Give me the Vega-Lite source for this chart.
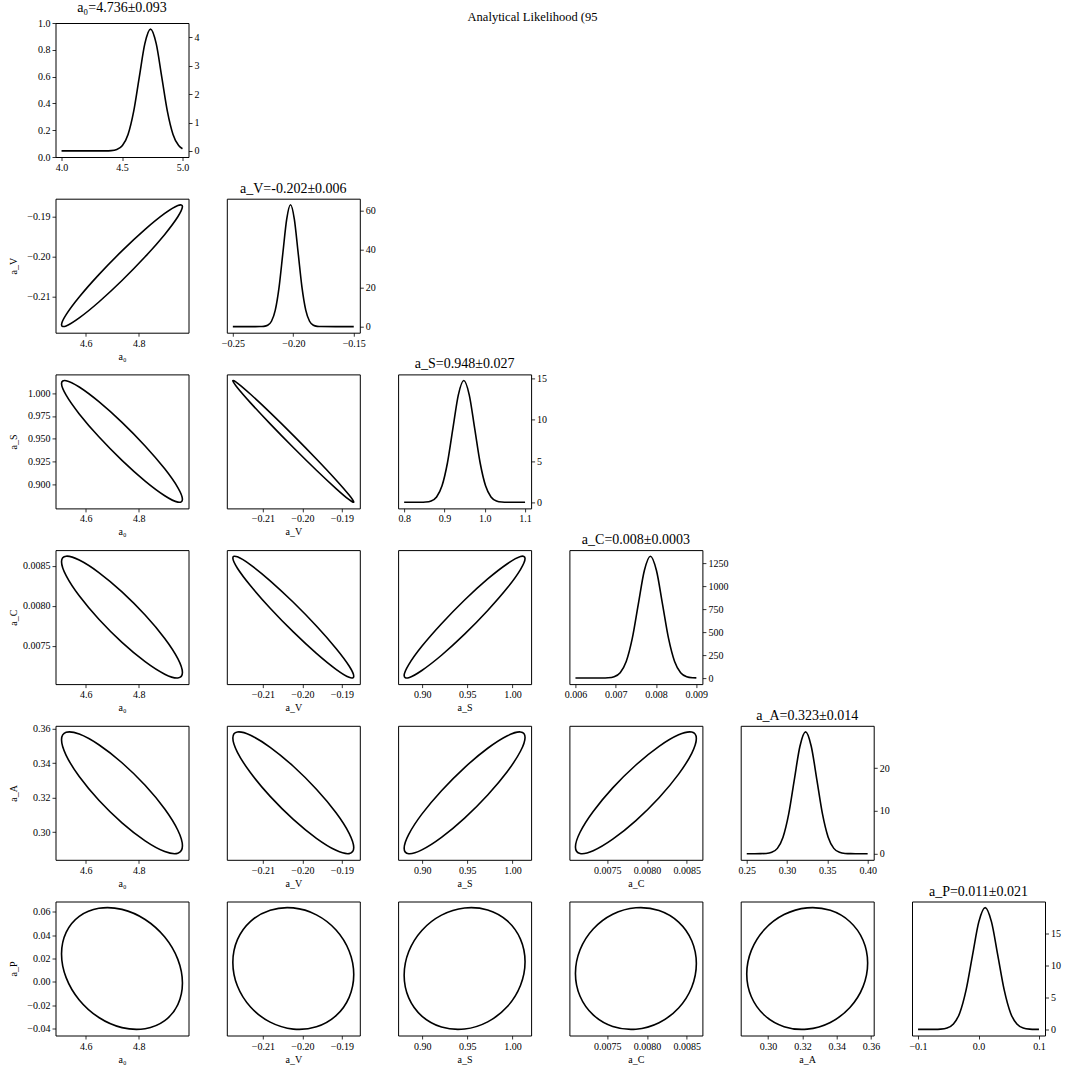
{
"$schema":"https://vega.github.io/schema/vega-lite/v6.json",
"padding":{"left":7.5,"top":0,"right":5,"bottom":5},
"bounds":"flush",
"columns":6,
"spacing":{"row":41.7,"column":38.3},
"title":{"text":"Analytical Likelihood (95","fontSize":12.5,"offset":-23,"anchor":"middle","frame":"bounds","dx":-2},
"config":{
 "font":"Liberation Serif",
 "view":{"stroke":"black","strokeWidth":1},
 "axis":{"domain":false,"grid":false,"ticks":true,"tickColor":"black","tickSize":3.5,"tickWidth":0.8,"labelFont":"Liberation Serif","labelFontSize":10,"labelColor":"black","labelPadding":2,"titleFont":"Liberation Serif","titleFontSize":10,"titleFontWeight":"normal","titleColor":"black","titlePadding":3,"labelFlush":false,"labelOverlap":false},
 "title":{"font":"Liberation Serif","fontSize":14,"fontWeight":"normal","color":"black","offset":3,"frame":"group"}
},
"datasets":{
"ell":[
{"p":"V0","i":0,"x":4.9655,"y":-0.18746},{"p":"V0","i":1,"x":4.9481,"y":-0.18717},{"p":"V0","i":2,"x":4.8986,"y":-0.18918},{"p":"V0","i":3,"x":4.8244,"y":-0.19318},{"p":"V0","i":4,"x":4.737,"y":-0.19858},{"p":"V0","i":5,"x":4.6496,"y":-0.20454},{"p":"V0","i":6,"x":4.5754,"y":-0.21016},{"p":"V0","i":7,"x":4.5259,"y":-0.21459},{"p":"V0","i":8,"x":4.5085,"y":-0.21714},{"p":"V0","i":9,"x":4.5259,"y":-0.21743},{"p":"V0","i":10,"x":4.5754,"y":-0.21542},{"p":"V0","i":11,"x":4.6496,"y":-0.21142},{"p":"V0","i":12,"x":4.737,"y":-0.20602},{"p":"V0","i":13,"x":4.8244,"y":-0.20006},{"p":"V0","i":14,"x":4.8986,"y":-0.19444},{"p":"V0","i":15,"x":4.9481,"y":-0.19001},
{"p":"S0","i":0,"x":4.9655,"y":0.88335},{"p":"S0","i":1,"x":4.9481,"y":0.8962},{"p":"S0","i":2,"x":4.8986,"y":0.91679},{"p":"S0","i":3,"x":4.8244,"y":0.94197},{"p":"S0","i":4,"x":4.737,"y":0.96792},{"p":"S0","i":5,"x":4.6496,"y":0.99069},{"p":"S0","i":6,"x":4.5754,"y":1.0068},{"p":"S0","i":7,"x":4.5259,"y":1.01381},{"p":"S0","i":8,"x":4.5085,"y":1.01065},{"p":"S0","i":9,"x":4.5259,"y":0.9978},{"p":"S0","i":10,"x":4.5754,"y":0.97721},{"p":"S0","i":11,"x":4.6496,"y":0.95203},{"p":"S0","i":12,"x":4.737,"y":0.92608},{"p":"S0","i":13,"x":4.8244,"y":0.90331},{"p":"S0","i":14,"x":4.8986,"y":0.8872},{"p":"S0","i":15,"x":4.9481,"y":0.88019},
{"p":"SV","i":0,"x":-0.187,"y":0.88033},{"p":"SV","i":1,"x":-0.18817,"y":0.88797},{"p":"SV","i":2,"x":-0.19148,"y":0.90459},{"p":"SV","i":3,"x":-0.19645,"y":0.92767},{"p":"SV","i":4,"x":-0.2023,"y":0.95369},{"p":"SV","i":5,"x":-0.20815,"y":0.97869},{"p":"SV","i":6,"x":-0.21312,"y":0.99887},{"p":"SV","i":7,"x":-0.21644,"y":1.01115},{"p":"SV","i":8,"x":-0.2176,"y":1.01367},{"p":"SV","i":9,"x":-0.21644,"y":1.00603},{"p":"SV","i":10,"x":-0.21312,"y":0.98941},{"p":"SV","i":11,"x":-0.20815,"y":0.96633},{"p":"SV","i":12,"x":-0.2023,"y":0.94031},{"p":"SV","i":13,"x":-0.19645,"y":0.91531},{"p":"SV","i":14,"x":-0.19148,"y":0.89513},{"p":"SV","i":15,"x":-0.18817,"y":0.88285},
{"p":"C0","i":0,"x":4.9655,"y":0.007168},{"p":"C0","i":1,"x":4.9481,"y":0.007342},{"p":"C0","i":2,"x":4.8986,"y":0.007594},{"p":"C0","i":3,"x":4.8244,"y":0.007886},{"p":"C0","i":4,"x":4.737,"y":0.008175},{"p":"C0","i":5,"x":4.6496,"y":0.008416},{"p":"C0","i":6,"x":4.5754,"y":0.008572},{"p":"C0","i":7,"x":4.5259,"y":0.00862},{"p":"C0","i":8,"x":4.5085,"y":0.008552},{"p":"C0","i":9,"x":4.5259,"y":0.008378},{"p":"C0","i":10,"x":4.5754,"y":0.008126},{"p":"C0","i":11,"x":4.6496,"y":0.007834},{"p":"C0","i":12,"x":4.737,"y":0.007545},{"p":"C0","i":13,"x":4.8244,"y":0.007304},{"p":"C0","i":14,"x":4.8986,"y":0.007148},{"p":"C0","i":15,"x":4.9481,"y":0.007101},
{"p":"CV","i":0,"x":-0.187,"y":0.007123},{"p":"CV","i":1,"x":-0.18817,"y":0.00725},{"p":"CV","i":2,"x":-0.19148,"y":0.007469},{"p":"CV","i":3,"x":-0.19645,"y":0.007749},{"p":"CV","i":4,"x":-0.2023,"y":0.008045},{"p":"CV","i":5,"x":-0.20815,"y":0.008313},{"p":"CV","i":6,"x":-0.21312,"y":0.008512},{"p":"CV","i":7,"x":-0.21644,"y":0.008612},{"p":"CV","i":8,"x":-0.2176,"y":0.008597},{"p":"CV","i":9,"x":-0.21644,"y":0.00847},{"p":"CV","i":10,"x":-0.21312,"y":0.008251},{"p":"CV","i":11,"x":-0.20815,"y":0.007971},{"p":"CV","i":12,"x":-0.2023,"y":0.007675},{"p":"CV","i":13,"x":-0.19645,"y":0.007407},{"p":"CV","i":14,"x":-0.19148,"y":0.007208},{"p":"CV","i":15,"x":-0.18817,"y":0.007108},
{"p":"CS","i":0,"x":1.014,"y":0.00859},{"p":"CS","i":1,"x":1.0089,"y":0.008616},{"p":"CS","i":2,"x":0.9944,"y":0.008526},{"p":"CS","i":3,"x":0.9726,"y":0.008336},{"p":"CS","i":4,"x":0.947,"y":0.008073},{"p":"CS","i":5,"x":0.9214,"y":0.007777},{"p":"CS","i":6,"x":0.8996,"y":0.007495},{"p":"CS","i":7,"x":0.8851,"y":0.007267},{"p":"CS","i":8,"x":0.88,"y":0.00713},{"p":"CS","i":9,"x":0.8851,"y":0.007104},{"p":"CS","i":10,"x":0.8996,"y":0.007194},{"p":"CS","i":11,"x":0.9214,"y":0.007384},{"p":"CS","i":12,"x":0.947,"y":0.007647},{"p":"CS","i":13,"x":0.9726,"y":0.007943},{"p":"CS","i":14,"x":0.9944,"y":0.008225},{"p":"CS","i":15,"x":1.0089,"y":0.008453},
{"p":"A0","i":0,"x":4.9655,"y":0.29218},{"p":"A0","i":1,"x":4.9481,"y":0.30115},{"p":"A0","i":2,"x":4.8986,"y":0.31342},{"p":"A0","i":3,"x":4.8244,"y":0.32712},{"p":"A0","i":4,"x":4.737,"y":0.34016},{"p":"A0","i":5,"x":4.6496,"y":0.35055},{"p":"A0","i":6,"x":4.5754,"y":0.35673},{"p":"A0","i":7,"x":4.5259,"y":0.35774},{"p":"A0","i":8,"x":4.5085,"y":0.35342},{"p":"A0","i":9,"x":4.5259,"y":0.34445},{"p":"A0","i":10,"x":4.5754,"y":0.33218},{"p":"A0","i":11,"x":4.6496,"y":0.31848},{"p":"A0","i":12,"x":4.737,"y":0.30544},{"p":"A0","i":13,"x":4.8244,"y":0.29505},{"p":"A0","i":14,"x":4.8986,"y":0.28887},{"p":"A0","i":15,"x":4.9481,"y":0.28787},
{"p":"AV","i":0,"x":-0.187,"y":0.29112},{"p":"AV","i":1,"x":-0.18817,"y":0.2994},{"p":"AV","i":2,"x":-0.19148,"y":0.31125},{"p":"AV","i":3,"x":-0.19645,"y":0.32485},{"p":"AV","i":4,"x":-0.2023,"y":0.33814},{"p":"AV","i":5,"x":-0.20815,"y":0.3491},{"p":"AV","i":6,"x":-0.21312,"y":0.35605},{"p":"AV","i":7,"x":-0.21644,"y":0.35794},{"p":"AV","i":8,"x":-0.2176,"y":0.35448},{"p":"AV","i":9,"x":-0.21644,"y":0.3462},{"p":"AV","i":10,"x":-0.21312,"y":0.33435},{"p":"AV","i":11,"x":-0.20815,"y":0.32075},{"p":"AV","i":12,"x":-0.2023,"y":0.30746},{"p":"AV","i":13,"x":-0.19645,"y":0.2965},{"p":"AV","i":14,"x":-0.19148,"y":0.28955},{"p":"AV","i":15,"x":-0.18817,"y":0.28766},
{"p":"AS","i":0,"x":1.014,"y":0.35483},{"p":"AS","i":1,"x":1.0089,"y":0.35798},{"p":"AS","i":2,"x":0.9944,"y":0.35577},{"p":"AS","i":3,"x":0.9726,"y":0.34854},{"p":"AS","i":4,"x":0.947,"y":0.33739},{"p":"AS","i":5,"x":0.9214,"y":0.32403},{"p":"AS","i":6,"x":0.8996,"y":0.31047},{"p":"AS","i":7,"x":0.8851,"y":0.29879},{"p":"AS","i":8,"x":0.88,"y":0.29077},{"p":"AS","i":9,"x":0.8851,"y":0.28762},{"p":"AS","i":10,"x":0.8996,"y":0.28983},{"p":"AS","i":11,"x":0.9214,"y":0.29706},{"p":"AS","i":12,"x":0.947,"y":0.30821},{"p":"AS","i":13,"x":0.9726,"y":0.32157},{"p":"AS","i":14,"x":0.9944,"y":0.33513},{"p":"AS","i":15,"x":1.0089,"y":0.34681},
{"p":"AC","i":0,"x":0.00862,"y":0.35413},{"p":"AC","i":1,"x":0.008562,"y":0.35789},{"p":"AC","i":2,"x":0.008397,"y":0.3563},{"p":"AC","i":3,"x":0.008151,"y":0.34962},{"p":"AC","i":4,"x":0.00786,"y":0.33885},{"p":"AC","i":5,"x":0.007569,"y":0.32564},{"p":"AC","i":6,"x":0.007323,"y":0.312},{"p":"AC","i":7,"x":0.007158,"y":0.3},{"p":"AC","i":8,"x":0.0071,"y":0.29147},{"p":"AC","i":9,"x":0.007158,"y":0.28771},{"p":"AC","i":10,"x":0.007323,"y":0.2893},{"p":"AC","i":11,"x":0.007569,"y":0.29598},{"p":"AC","i":12,"x":0.00786,"y":0.30675},{"p":"AC","i":13,"x":0.008151,"y":0.31996},{"p":"AC","i":14,"x":0.008397,"y":0.3336},{"p":"AC","i":15,"x":0.008562,"y":0.3456},
{"p":"P0","i":0,"x":4.9655,"y":-0.00113},{"p":"P0","i":1,"x":4.9481,"y":0.01922},{"p":"P0","i":2,"x":4.8986,"y":0.03837},{"p":"P0","i":3,"x":4.8244,"y":0.05342},{"p":"P0","i":4,"x":4.737,"y":0.06207},{"p":"P0","i":5,"x":4.6496,"y":0.06301},{"p":"P0","i":6,"x":4.5754,"y":0.05609},{"p":"P0","i":7,"x":4.5259,"y":0.04237},{"p":"P0","i":8,"x":4.5085,"y":0.02393},{"p":"P0","i":9,"x":4.5259,"y":0.00358},{"p":"P0","i":10,"x":4.5754,"y":-0.01557},{"p":"P0","i":11,"x":4.6496,"y":-0.03062},{"p":"P0","i":12,"x":4.737,"y":-0.03927},{"p":"P0","i":13,"x":4.8244,"y":-0.04021},{"p":"P0","i":14,"x":4.8986,"y":-0.03329},{"p":"P0","i":15,"x":4.9481,"y":-0.01957},
{"p":"PV","i":0,"x":-0.187,"y":0.00618},{"p":"PV","i":1,"x":-0.18817,"y":0.02645},{"p":"PV","i":2,"x":-0.19148,"y":0.04444},{"p":"PV","i":3,"x":-0.19645,"y":0.05739},{"p":"PV","i":4,"x":-0.2023,"y":0.06334},{"p":"PV","i":5,"x":-0.20815,"y":0.06138},{"p":"PV","i":6,"x":-0.21312,"y":0.05182},{"p":"PV","i":7,"x":-0.21644,"y":0.0361},{"p":"PV","i":8,"x":-0.2176,"y":0.01662},{"p":"PV","i":9,"x":-0.21644,"y":-0.00365},{"p":"PV","i":10,"x":-0.21312,"y":-0.02164},{"p":"PV","i":11,"x":-0.20815,"y":-0.03459},{"p":"PV","i":12,"x":-0.2023,"y":-0.04054},{"p":"PV","i":13,"x":-0.19645,"y":-0.03858},{"p":"PV","i":14,"x":-0.19148,"y":-0.02902},{"p":"PV","i":15,"x":-0.18817,"y":-0.0133},
{"p":"PS","i":0,"x":1.014,"y":0.01714},{"p":"PS","i":1,"x":1.0089,"y":0.03656},{"p":"PS","i":2,"x":0.9944,"y":0.05215},{"p":"PS","i":3,"x":0.9726,"y":0.06153},{"p":"PS","i":4,"x":0.947,"y":0.06328},{"p":"PS","i":5,"x":0.9214,"y":0.05714},{"p":"PS","i":6,"x":0.8996,"y":0.04403},{"p":"PS","i":7,"x":0.8851,"y":0.02595},{"p":"PS","i":8,"x":0.88,"y":0.00566},{"p":"PS","i":9,"x":0.8851,"y":-0.01376},{"p":"PS","i":10,"x":0.8996,"y":-0.02935},{"p":"PS","i":11,"x":0.9214,"y":-0.03873},{"p":"PS","i":12,"x":0.947,"y":-0.04048},{"p":"PS","i":13,"x":0.9726,"y":-0.03434},{"p":"PS","i":14,"x":0.9944,"y":-0.02123},{"p":"PS","i":15,"x":1.0089,"y":-0.00315},
{"p":"PC","i":0,"x":0.00862,"y":0.01558},{"p":"PC","i":1,"x":0.008562,"y":0.03517},{"p":"PC","i":2,"x":0.008397,"y":0.05115},{"p":"PC","i":3,"x":0.008151,"y":0.06107},{"p":"PC","i":4,"x":0.00786,"y":0.06343},{"p":"PC","i":5,"x":0.007569,"y":0.05787},{"p":"PC","i":6,"x":0.007323,"y":0.04524},{"p":"PC","i":7,"x":0.007158,"y":0.02745},{"p":"PC","i":8,"x":0.0071,"y":0.00722},{"p":"PC","i":9,"x":0.007158,"y":-0.01237},{"p":"PC","i":10,"x":0.007323,"y":-0.02835},{"p":"PC","i":11,"x":0.007569,"y":-0.03827},{"p":"PC","i":12,"x":0.00786,"y":-0.04063},{"p":"PC","i":13,"x":0.008151,"y":-0.03507},{"p":"PC","i":14,"x":0.008397,"y":-0.02244},{"p":"PC","i":15,"x":0.008562,"y":-0.00465},
{"p":"PA","i":0,"x":0.358,"y":0.0161},{"p":"PA","i":1,"x":0.35532,"y":0.03564},{"p":"PA","i":2,"x":0.34769,"y":0.05148},{"p":"PA","i":3,"x":0.33627,"y":0.06123},{"p":"PA","i":4,"x":0.3228,"y":0.06339},{"p":"PA","i":5,"x":0.30933,"y":0.05763},{"p":"PA","i":6,"x":0.29791,"y":0.04484},{"p":"PA","i":7,"x":0.29028,"y":0.02696},{"p":"PA","i":8,"x":0.2876,"y":0.0067},{"p":"PA","i":9,"x":0.29028,"y":-0.01284},{"p":"PA","i":10,"x":0.29791,"y":-0.02868},{"p":"PA","i":11,"x":0.30933,"y":-0.03843},{"p":"PA","i":12,"x":0.3228,"y":-0.04059},{"p":"PA","i":13,"x":0.33627,"y":-0.03483},{"p":"PA","i":14,"x":0.34769,"y":-0.02204},{"p":"PA","i":15,"x":0.35532,"y":-0.00416}
],
"diag":[
{"p":"d0","x":4.0,"y":0},{"p":"d0","x":4.2,"y":0},{"p":"d0","x":4.364,"y":0.0014},{"p":"d0","x":4.4105,"y":0.0094},{"p":"d0","x":4.457,"y":0.0477},{"p":"d0","x":4.5035,"y":0.1885},{"p":"d0","x":4.55,"y":0.5806},{"p":"d0","x":4.5965,"y":1.393},{"p":"d0","x":4.643,"y":2.602},{"p":"d0","x":4.6895,"y":3.786},{"p":"d0","x":4.736,"y":4.29},{"p":"d0","x":4.7825,"y":3.786},{"p":"d0","x":4.829,"y":2.602},{"p":"d0","x":4.8755,"y":1.393},{"p":"d0","x":4.922,"y":0.5806},{"p":"d0","x":4.9685,"y":0.1885},{"p":"d0","x":5.0,"y":0.0762},
{"p":"d1","x":-0.25,"y":0},{"p":"d1","x":-0.235,"y":0},{"p":"d1","x":-0.2275,"y":0.0211},{"p":"d1","x":-0.22435,"y":0.138},{"p":"d1","x":-0.2212,"y":0.7},{"p":"d1","x":-0.21805,"y":2.768},{"p":"d1","x":-0.2149,"y":8.526},{"p":"d1","x":-0.21175,"y":20.45},{"p":"d1","x":-0.2086,"y":38.21},{"p":"d1","x":-0.20545,"y":55.6},{"p":"d1","x":-0.2023,"y":63},{"p":"d1","x":-0.19915,"y":55.6},{"p":"d1","x":-0.196,"y":38.21},{"p":"d1","x":-0.19285,"y":20.45},{"p":"d1","x":-0.1897,"y":8.526},{"p":"d1","x":-0.18655,"y":2.768},{"p":"d1","x":-0.1834,"y":0.7},{"p":"d1","x":-0.18025,"y":0.138},{"p":"d1","x":-0.1771,"y":0.0211},{"p":"d1","x":-0.165,"y":0},{"p":"d1","x":-0.15,"y":0},
{"p":"d2","x":0.8,"y":0},{"p":"d2","x":0.82,"y":0},{"p":"d2","x":0.84,"y":0.005},{"p":"d2","x":0.8535,"y":0.032},{"p":"d2","x":0.867,"y":0.164},{"p":"d2","x":0.8805,"y":0.649},{"p":"d2","x":0.894,"y":2.0},{"p":"d2","x":0.9075,"y":4.798},{"p":"d2","x":0.921,"y":8.965},{"p":"d2","x":0.9345,"y":13.043},{"p":"d2","x":0.948,"y":14.78},{"p":"d2","x":0.9615,"y":13.043},{"p":"d2","x":0.975,"y":8.965},{"p":"d2","x":0.9885,"y":4.798},{"p":"d2","x":1.002,"y":2.0},{"p":"d2","x":1.0155,"y":0.649},{"p":"d2","x":1.029,"y":0.164},{"p":"d2","x":1.0425,"y":0.032},{"p":"d2","x":1.056,"y":0.005},{"p":"d2","x":1.08,"y":0},{"p":"d2","x":1.1,"y":0},
{"p":"d3","x":0.006,"y":0},{"p":"d3","x":0.0063,"y":0},{"p":"d3","x":0.00666,"y":0.446},{"p":"d3","x":0.00681,"y":2.91},{"p":"d3","x":0.00696,"y":14.77},{"p":"d3","x":0.00711,"y":58.44},{"p":"d3","x":0.00726,"y":180.0},{"p":"d3","x":0.00741,"y":431.8},{"p":"d3","x":0.00756,"y":806.7},{"p":"d3","x":0.00771,"y":1173.7},{"p":"d3","x":0.00786,"y":1330},{"p":"d3","x":0.00801,"y":1173.7},{"p":"d3","x":0.00816,"y":806.7},{"p":"d3","x":0.00831,"y":431.8},{"p":"d3","x":0.00846,"y":180.0},{"p":"d3","x":0.00861,"y":58.44},{"p":"d3","x":0.00876,"y":14.77},{"p":"d3","x":0.00891,"y":2.91},{"p":"d3","x":0.009,"y":0.97},
{"p":"d4","x":0.25,"y":0},{"p":"d4","x":0.26,"y":0},{"p":"d4","x":0.267,"y":0.0095},{"p":"d4","x":0.274,"y":0.062},{"p":"d4","x":0.281,"y":0.317},{"p":"d4","x":0.288,"y":1.252},{"p":"d4","x":0.295,"y":3.857},{"p":"d4","x":0.302,"y":9.253},{"p":"d4","x":0.309,"y":17.286},{"p":"d4","x":0.316,"y":25.151},{"p":"d4","x":0.323,"y":28.5},{"p":"d4","x":0.33,"y":25.151},{"p":"d4","x":0.337,"y":17.286},{"p":"d4","x":0.344,"y":9.253},{"p":"d4","x":0.351,"y":3.857},{"p":"d4","x":0.358,"y":1.252},{"p":"d4","x":0.365,"y":0.317},{"p":"d4","x":0.372,"y":0.062},{"p":"d4","x":0.379,"y":0.0095},{"p":"d4","x":0.39,"y":0},{"p":"d4","x":0.4,"y":0},
{"p":"d5","x":-0.1,"y":0},{"p":"d5","x":-0.085,"y":0},{"p":"d5","x":-0.073,"y":0.0064},{"p":"d5","x":-0.0625,"y":0.042},{"p":"d5","x":-0.052,"y":0.211},{"p":"d5","x":-0.0415,"y":0.835},{"p":"d5","x":-0.031,"y":2.571},{"p":"d5","x":-0.0205,"y":6.168},{"p":"d5","x":-0.01,"y":11.524},{"p":"d5","x":0.0005,"y":16.767},{"p":"d5","x":0.011,"y":19.0},{"p":"d5","x":0.0215,"y":16.767},{"p":"d5","x":0.032,"y":11.524},{"p":"d5","x":0.0425,"y":6.168},{"p":"d5","x":0.053,"y":2.571},{"p":"d5","x":0.0635,"y":0.835},{"p":"d5","x":0.074,"y":0.211},{"p":"d5","x":0.0845,"y":0.042},{"p":"d5","x":0.095,"y":0.0064},{"p":"d5","x":0.1,"y":0.002}
]
},
"concat":[
{"width":133,"height":134,"title":{"text":"a₀=4.736±0.093"},"layer":[
 {"data":{"values":[{"x":4.0,"y":0}]},"mark":{"type":"point","opacity":0},"encoding":{"x":{"field":"x","type":"quantitative","scale":{"domain":[3.95,5.05],"nice":false,"zero":false},"axis":{"values":[4.0,4.5,5.0],"format":".1f","title":null}},"y":{"field":"y","type":"quantitative","scale":{"domain":[0,1],"nice":false},"axis":{"orient":"left","values":[0,0.2,0.4,0.6,0.8,1.0],"format":".1f","title":null}}}},
 {"data":{"name":"diag"},"transform":[{"filter":"datum.p==='d0'"}],"mark":{"type":"line","interpolate":"monotone","color":"black","strokeWidth":1.6},"encoding":{"x":{"field":"x","type":"quantitative","scale":{"domain":[3.95,5.05],"nice":false,"zero":false},"axis":{"values":[4.0,4.5,5.0],"format":".1f","title":null}},"y":{"field":"y","type":"quantitative","scale":{"domain":[-0.2145,4.5045],"nice":false,"zero":false},"axis":{"orient":"right","values":[0,1,2,3,4],"format":"d","title":null}}}}
 ],"resolve":{"scale":{"y":"independent"}}},
{"width":133,"height":134,"view":{"stroke":null},"data":{"values":[{}]},"mark":{"type":"point","opacity":0}},
{"width":133,"height":134,"view":{"stroke":null},"data":{"values":[{}]},"mark":{"type":"point","opacity":0}},
{"width":133,"height":134,"view":{"stroke":null},"data":{"values":[{}]},"mark":{"type":"point","opacity":0}},
{"width":133,"height":134,"view":{"stroke":null},"data":{"values":[{}]},"mark":{"type":"point","opacity":0}},
{"width":133,"height":134,"view":{"stroke":null},"data":{"values":[{}]},"mark":{"type":"point","opacity":0}},

{"width":133,"height":134,"data":{"name":"ell"},"transform":[{"filter":"datum.p==='V0'"}],"mark":{"type":"line","interpolate":"cardinal-closed","color":"black","strokeWidth":1.6},"encoding":{"order":{"field":"i","type":"quantitative"},"x":{"field":"x","type":"quantitative","scale":{"domain":[4.4857,4.9884],"nice":false,"zero":false},"axis":{"values":[4.6,4.8],"format":".1f","title":"a₀"}},"y":{"field":"y","type":"quantitative","scale":{"domain":[-0.21913,-0.18547],"nice":false,"zero":false},"axis":{"values":[-0.21,-0.2,-0.19],"format":".2f","title":"a_V","minExtent":34,"maxExtent":34}}}},
{"width":133,"height":134,"title":{"text":"a_V=-0.202±0.006"},"data":{"name":"diag"},"transform":[{"filter":"datum.p==='d1'"}],"mark":{"type":"line","interpolate":"monotone","color":"black","strokeWidth":1.6},"encoding":{"x":{"field":"x","type":"quantitative","scale":{"domain":[-0.255,-0.145],"nice":false,"zero":false},"axis":{"values":[-0.25,-0.2,-0.15],"format":".2f","title":null}},"y":{"field":"y","type":"quantitative","scale":{"domain":[-3.15,66.15],"nice":false,"zero":false},"axis":{"orient":"right","values":[0,20,40,60],"format":"d","title":null}}}},
{"width":133,"height":134,"view":{"stroke":null},"data":{"values":[{}]},"mark":{"type":"point","opacity":0}},
{"width":133,"height":134,"view":{"stroke":null},"data":{"values":[{}]},"mark":{"type":"point","opacity":0}},
{"width":133,"height":134,"view":{"stroke":null},"data":{"values":[{}]},"mark":{"type":"point","opacity":0}},
{"width":133,"height":134,"view":{"stroke":null},"data":{"values":[{}]},"mark":{"type":"point","opacity":0}},

{"width":133,"height":134,"data":{"name":"ell"},"transform":[{"filter":"datum.p==='S0'"}],"mark":{"type":"line","interpolate":"cardinal-closed","color":"black","strokeWidth":1.6},"encoding":{"order":{"field":"i","type":"quantitative"},"x":{"field":"x","type":"quantitative","scale":{"domain":[4.4857,4.9884],"nice":false,"zero":false},"axis":{"values":[4.6,4.8],"format":".1f","title":"a₀"}},"y":{"field":"y","type":"quantitative","scale":{"domain":[0.8733,1.0207],"nice":false,"zero":false},"axis":{"values":[0.9,0.925,0.95,0.975,1.0],"format":".3f","title":"a_S","minExtent":34,"maxExtent":34}}}},
{"width":133,"height":134,"data":{"name":"ell"},"transform":[{"filter":"datum.p==='SV'"}],"mark":{"type":"line","interpolate":"cardinal-closed","color":"black","strokeWidth":1.6},"encoding":{"order":{"field":"i","type":"quantitative"},"x":{"field":"x","type":"quantitative","scale":{"domain":[-0.21913,-0.18547],"nice":false,"zero":false},"axis":{"values":[-0.21,-0.2,-0.19],"format":".2f","title":"a_V"}},"y":{"field":"y","type":"quantitative","scale":{"domain":[0.8733,1.0207],"nice":false,"zero":false},"axis":null}}},
{"width":133,"height":134,"title":{"text":"a_S=0.948±0.027"},"data":{"name":"diag"},"transform":[{"filter":"datum.p==='d2'"}],"mark":{"type":"line","interpolate":"monotone","color":"black","strokeWidth":1.6},"encoding":{"x":{"field":"x","type":"quantitative","scale":{"domain":[0.785,1.115],"nice":false,"zero":false},"axis":{"values":[0.8,0.9,1.0,1.1],"format":".1f","title":null}},"y":{"field":"y","type":"quantitative","scale":{"domain":[-0.739,15.519],"nice":false,"zero":false},"axis":{"orient":"right","values":[0,5,10,15],"format":"d","title":null}}}},
{"width":133,"height":134,"view":{"stroke":null},"data":{"values":[{}]},"mark":{"type":"point","opacity":0}},
{"width":133,"height":134,"view":{"stroke":null},"data":{"values":[{}]},"mark":{"type":"point","opacity":0}},
{"width":133,"height":134,"view":{"stroke":null},"data":{"values":[{}]},"mark":{"type":"point","opacity":0}},

{"width":133,"height":134,"data":{"name":"ell"},"transform":[{"filter":"datum.p==='C0'"}],"mark":{"type":"line","interpolate":"cardinal-closed","color":"black","strokeWidth":1.6},"encoding":{"order":{"field":"i","type":"quantitative"},"x":{"field":"x","type":"quantitative","scale":{"domain":[4.4857,4.9884],"nice":false,"zero":false},"axis":{"values":[4.6,4.8],"format":".1f","title":"a₀"}},"y":{"field":"y","type":"quantitative","scale":{"domain":[0.007024,0.008696],"nice":false,"zero":false},"axis":{"values":[0.0075,0.008,0.0085],"format":".4f","title":"a_C","minExtent":34,"maxExtent":34}}}},
{"width":133,"height":134,"data":{"name":"ell"},"transform":[{"filter":"datum.p==='CV'"}],"mark":{"type":"line","interpolate":"cardinal-closed","color":"black","strokeWidth":1.6},"encoding":{"order":{"field":"i","type":"quantitative"},"x":{"field":"x","type":"quantitative","scale":{"domain":[-0.21913,-0.18547],"nice":false,"zero":false},"axis":{"values":[-0.21,-0.2,-0.19],"format":".2f","title":"a_V"}},"y":{"field":"y","type":"quantitative","scale":{"domain":[0.007024,0.008696],"nice":false,"zero":false},"axis":null}}},
{"width":133,"height":134,"data":{"name":"ell"},"transform":[{"filter":"datum.p==='CS'"}],"mark":{"type":"line","interpolate":"cardinal-closed","color":"black","strokeWidth":1.6},"encoding":{"order":{"field":"i","type":"quantitative"},"x":{"field":"x","type":"quantitative","scale":{"domain":[0.8733,1.0207],"nice":false,"zero":false},"axis":{"values":[0.9,0.95,1.0],"format":".2f","title":"a_S"}},"y":{"field":"y","type":"quantitative","scale":{"domain":[0.007024,0.008696],"nice":false,"zero":false},"axis":null}}},
{"width":133,"height":134,"title":{"text":"a_C=0.008±0.0003"},"data":{"name":"diag"},"transform":[{"filter":"datum.p==='d3'"}],"mark":{"type":"line","interpolate":"monotone","color":"black","strokeWidth":1.6},"encoding":{"x":{"field":"x","type":"quantitative","scale":{"domain":[0.00585,0.00915],"nice":false,"zero":false},"axis":{"values":[0.006,0.007,0.008,0.009],"format":".3f","title":null}},"y":{"field":"y","type":"quantitative","scale":{"domain":[-66.5,1396.5],"nice":false,"zero":false},"axis":{"orient":"right","values":[0,250,500,750,1000,1250],"format":"d","title":null}}}},
{"width":133,"height":134,"view":{"stroke":null},"data":{"values":[{}]},"mark":{"type":"point","opacity":0}},
{"width":133,"height":134,"view":{"stroke":null},"data":{"values":[{}]},"mark":{"type":"point","opacity":0}},

{"width":133,"height":134,"data":{"name":"ell"},"transform":[{"filter":"datum.p==='A0'"}],"mark":{"type":"line","interpolate":"cardinal-closed","color":"black","strokeWidth":1.6},"encoding":{"order":{"field":"i","type":"quantitative"},"x":{"field":"x","type":"quantitative","scale":{"domain":[4.4857,4.9884],"nice":false,"zero":false},"axis":{"values":[4.6,4.8],"format":".1f","title":"a₀"}},"y":{"field":"y","type":"quantitative","scale":{"domain":[0.28408,0.36152],"nice":false,"zero":false},"axis":{"values":[0.3,0.32,0.34,0.36],"format":".2f","title":"a_A","minExtent":34,"maxExtent":34}}}},
{"width":133,"height":134,"data":{"name":"ell"},"transform":[{"filter":"datum.p==='AV'"}],"mark":{"type":"line","interpolate":"cardinal-closed","color":"black","strokeWidth":1.6},"encoding":{"order":{"field":"i","type":"quantitative"},"x":{"field":"x","type":"quantitative","scale":{"domain":[-0.21913,-0.18547],"nice":false,"zero":false},"axis":{"values":[-0.21,-0.2,-0.19],"format":".2f","title":"a_V"}},"y":{"field":"y","type":"quantitative","scale":{"domain":[0.28408,0.36152],"nice":false,"zero":false},"axis":null}}},
{"width":133,"height":134,"data":{"name":"ell"},"transform":[{"filter":"datum.p==='AS'"}],"mark":{"type":"line","interpolate":"cardinal-closed","color":"black","strokeWidth":1.6},"encoding":{"order":{"field":"i","type":"quantitative"},"x":{"field":"x","type":"quantitative","scale":{"domain":[0.8733,1.0207],"nice":false,"zero":false},"axis":{"values":[0.9,0.95,1.0],"format":".2f","title":"a_S"}},"y":{"field":"y","type":"quantitative","scale":{"domain":[0.28408,0.36152],"nice":false,"zero":false},"axis":null}}},
{"width":133,"height":134,"data":{"name":"ell"},"transform":[{"filter":"datum.p==='AC'"}],"mark":{"type":"line","interpolate":"cardinal-closed","color":"black","strokeWidth":1.6},"encoding":{"order":{"field":"i","type":"quantitative"},"x":{"field":"x","type":"quantitative","scale":{"domain":[0.007024,0.008696],"nice":false,"zero":false},"axis":{"values":[0.0075,0.008,0.0085],"format":".4f","title":"a_C"}},"y":{"field":"y","type":"quantitative","scale":{"domain":[0.28408,0.36152],"nice":false,"zero":false},"axis":null}}},
{"width":133,"height":134,"title":{"text":"a_A=0.323±0.014"},"data":{"name":"diag"},"transform":[{"filter":"datum.p==='d4'"}],"mark":{"type":"line","interpolate":"monotone","color":"black","strokeWidth":1.6},"encoding":{"x":{"field":"x","type":"quantitative","scale":{"domain":[0.2425,0.4075],"nice":false,"zero":false},"axis":{"values":[0.25,0.3,0.35,0.4],"format":".2f","title":null}},"y":{"field":"y","type":"quantitative","scale":{"domain":[-1.425,29.925],"nice":false,"zero":false},"axis":{"orient":"right","values":[0,10,20],"format":"d","title":null}}}},
{"width":133,"height":134,"view":{"stroke":null},"data":{"values":[{}]},"mark":{"type":"point","opacity":0}},

{"width":133,"height":134,"data":{"name":"ell"},"transform":[{"filter":"datum.p==='P0'"}],"mark":{"type":"line","interpolate":"cardinal-closed","color":"black","strokeWidth":1.6},"encoding":{"order":{"field":"i","type":"quantitative"},"x":{"field":"x","type":"quantitative","scale":{"domain":[4.4857,4.9884],"nice":false,"zero":false},"axis":{"values":[4.6,4.8],"format":".1f","title":"a₀"}},"y":{"field":"y","type":"quantitative","scale":{"domain":[-0.04602,0.06882],"nice":false,"zero":false},"axis":{"values":[-0.04,-0.02,0,0.02,0.04,0.06],"format":".2f","title":"a_P","minExtent":34,"maxExtent":34}}}},
{"width":133,"height":134,"data":{"name":"ell"},"transform":[{"filter":"datum.p==='PV'"}],"mark":{"type":"line","interpolate":"cardinal-closed","color":"black","strokeWidth":1.6},"encoding":{"order":{"field":"i","type":"quantitative"},"x":{"field":"x","type":"quantitative","scale":{"domain":[-0.21913,-0.18547],"nice":false,"zero":false},"axis":{"values":[-0.21,-0.2,-0.19],"format":".2f","title":"a_V"}},"y":{"field":"y","type":"quantitative","scale":{"domain":[-0.04602,0.06882],"nice":false,"zero":false},"axis":null}}},
{"width":133,"height":134,"data":{"name":"ell"},"transform":[{"filter":"datum.p==='PS'"}],"mark":{"type":"line","interpolate":"cardinal-closed","color":"black","strokeWidth":1.6},"encoding":{"order":{"field":"i","type":"quantitative"},"x":{"field":"x","type":"quantitative","scale":{"domain":[0.8733,1.0207],"nice":false,"zero":false},"axis":{"values":[0.9,0.95,1.0],"format":".2f","title":"a_S"}},"y":{"field":"y","type":"quantitative","scale":{"domain":[-0.04602,0.06882],"nice":false,"zero":false},"axis":null}}},
{"width":133,"height":134,"data":{"name":"ell"},"transform":[{"filter":"datum.p==='PC'"}],"mark":{"type":"line","interpolate":"cardinal-closed","color":"black","strokeWidth":1.6},"encoding":{"order":{"field":"i","type":"quantitative"},"x":{"field":"x","type":"quantitative","scale":{"domain":[0.007024,0.008696],"nice":false,"zero":false},"axis":{"values":[0.0075,0.008,0.0085],"format":".4f","title":"a_C"}},"y":{"field":"y","type":"quantitative","scale":{"domain":[-0.04602,0.06882],"nice":false,"zero":false},"axis":null}}},
{"width":133,"height":134,"data":{"name":"ell"},"transform":[{"filter":"datum.p==='PA'"}],"mark":{"type":"line","interpolate":"cardinal-closed","color":"black","strokeWidth":1.6},"encoding":{"order":{"field":"i","type":"quantitative"},"x":{"field":"x","type":"quantitative","scale":{"domain":[0.28408,0.36152],"nice":false,"zero":false},"axis":{"values":[0.3,0.32,0.34,0.36],"format":".2f","title":"a_A"}},"y":{"field":"y","type":"quantitative","scale":{"domain":[-0.04602,0.06882],"nice":false,"zero":false},"axis":null}}},
{"width":133,"height":134,"title":{"text":"a_P=0.011±0.021"},"data":{"name":"diag"},"transform":[{"filter":"datum.p==='d5'"}],"mark":{"type":"line","interpolate":"monotone","color":"black","strokeWidth":1.6},"encoding":{"x":{"field":"x","type":"quantitative","scale":{"domain":[-0.11,0.11],"nice":false,"zero":false},"axis":{"values":[-0.1,0,0.1],"format":".1f","title":null}},"y":{"field":"y","type":"quantitative","scale":{"domain":[-0.95,19.95],"nice":false,"zero":false},"axis":{"orient":"right","values":[0,5,10,15],"format":"d","title":null}}}}
]
}
